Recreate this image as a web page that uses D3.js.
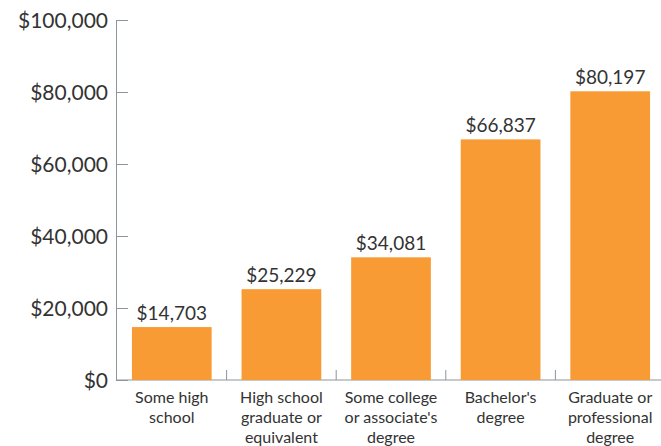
<!DOCTYPE html>
<html>
<head>
<meta charset="utf-8">
<script src="https://cdn.jsdelivr.net/npm/d3@7"></script>
<style>
  html, body { margin: 0; padding: 0; background: #fff; }
  svg { display: block; }
  svg text { font-family: Lato, "Open Sans", sans-serif; }
</style>
</head>
<body>
<svg id="chart" width="661" height="446"></svg>
<script>
// Median earnings by educational attainment
const categories = [
  ["Some high", "school"],
  ["High school", "graduate or", "equivalent"],
  ["Some college", "or associate's", "degree"],
  ["Bachelor's", "degree"],
  ["Graduate or", "professional", "degree"]
];
const earnings = [14703, 25229, 34081, 66837, 80197];
const yTicks = [0, 20000, 40000, 60000, 80000, 100000];

const svg = d3.select("#chart");
const margin = { left: 116, top: 20, bottom: 66 };
const plotRight = 666;
const height = 446;

const keys = categories.map((c, i) => i);
const x = d3.scaleBand()
  .domain(keys)
  .range([margin.left, plotRight])
  .paddingInner(0.2727)
  .paddingOuter(0.1455);

const y = d3.scaleLinear()
  .domain([0, 100000])
  .range([height - margin.bottom, margin.top]);

const fmt = d3.format("$,");
const axisColor = "#8c9599";
const textColor = "#333";

// Y axis with inward ticks
const yAxis = svg.append("g")
  .attr("transform", `translate(${margin.left},0)`)
  .call(d3.axisLeft(y).tickValues(yTicks).tickFormat(fmt)
    .tickSizeInner(-12).tickSizeOuter(0).tickPadding(8));
yAxis.attr("font-family", null).attr("font-size", null);
yAxis.select(".domain").attr("stroke", axisColor);
yAxis.selectAll(".tick line").attr("stroke", axisColor);
yAxis.selectAll(".tick text")
  .attr("fill", textColor)
  .style("font-size", "21px")
  .attr("dy", "0.35em");

// Baseline and category separators
const base = y(0);
svg.append("line")
  .attr("x1", margin.left).attr("x2", plotRight)
  .attr("y1", base).attr("y2", base)
  .attr("stroke", axisColor);
const step = x.step();
svg.selectAll(".sep")
  .data(keys.slice(1))
  .join("line")
  .attr("class", "sep")
  .attr("x1", d => x(d) - step * x.paddingInner() / 2)
  .attr("x2", d => x(d) - step * x.paddingInner() / 2)
  .attr("y1", base).attr("y2", base - 10)
  .attr("stroke", axisColor);

// Bars
svg.selectAll(".bar")
  .data(earnings)
  .join("rect")
  .attr("class", "bar")
  .attr("x", (d, i) => x(i))
  .attr("width", x.bandwidth())
  .attr("y", d => y(d))
  .attr("height", d => base - y(d))
  .attr("fill", "#f99b34");

// Value labels
svg.selectAll(".val")
  .data(earnings)
  .join("text")
  .attr("class", "val")
  .attr("x", (d, i) => x(i) + x.bandwidth() / 2)
  .attr("y", d => y(d) - 7)
  .attr("text-anchor", "middle")
  .attr("fill", textColor)
  .style("font-size", "19px")
  .text(d => fmt(d));

// Category labels
const labels = svg.selectAll(".cat")
  .data(categories)
  .join("text")
  .attr("class", "cat")
  .attr("text-anchor", "middle")
  .attr("fill", textColor)
  .style("font-size", "16px");
labels.selectAll("tspan")
  .data((d, i) => d.map(line => ({ line, i })))
  .join("tspan")
  .attr("x", d => x(d.i) + x.bandwidth() / 2)
  .attr("y", (d, j) => base + 23 + j * 20)
  .text(d => d.line);
</script>
</body>
</html>
